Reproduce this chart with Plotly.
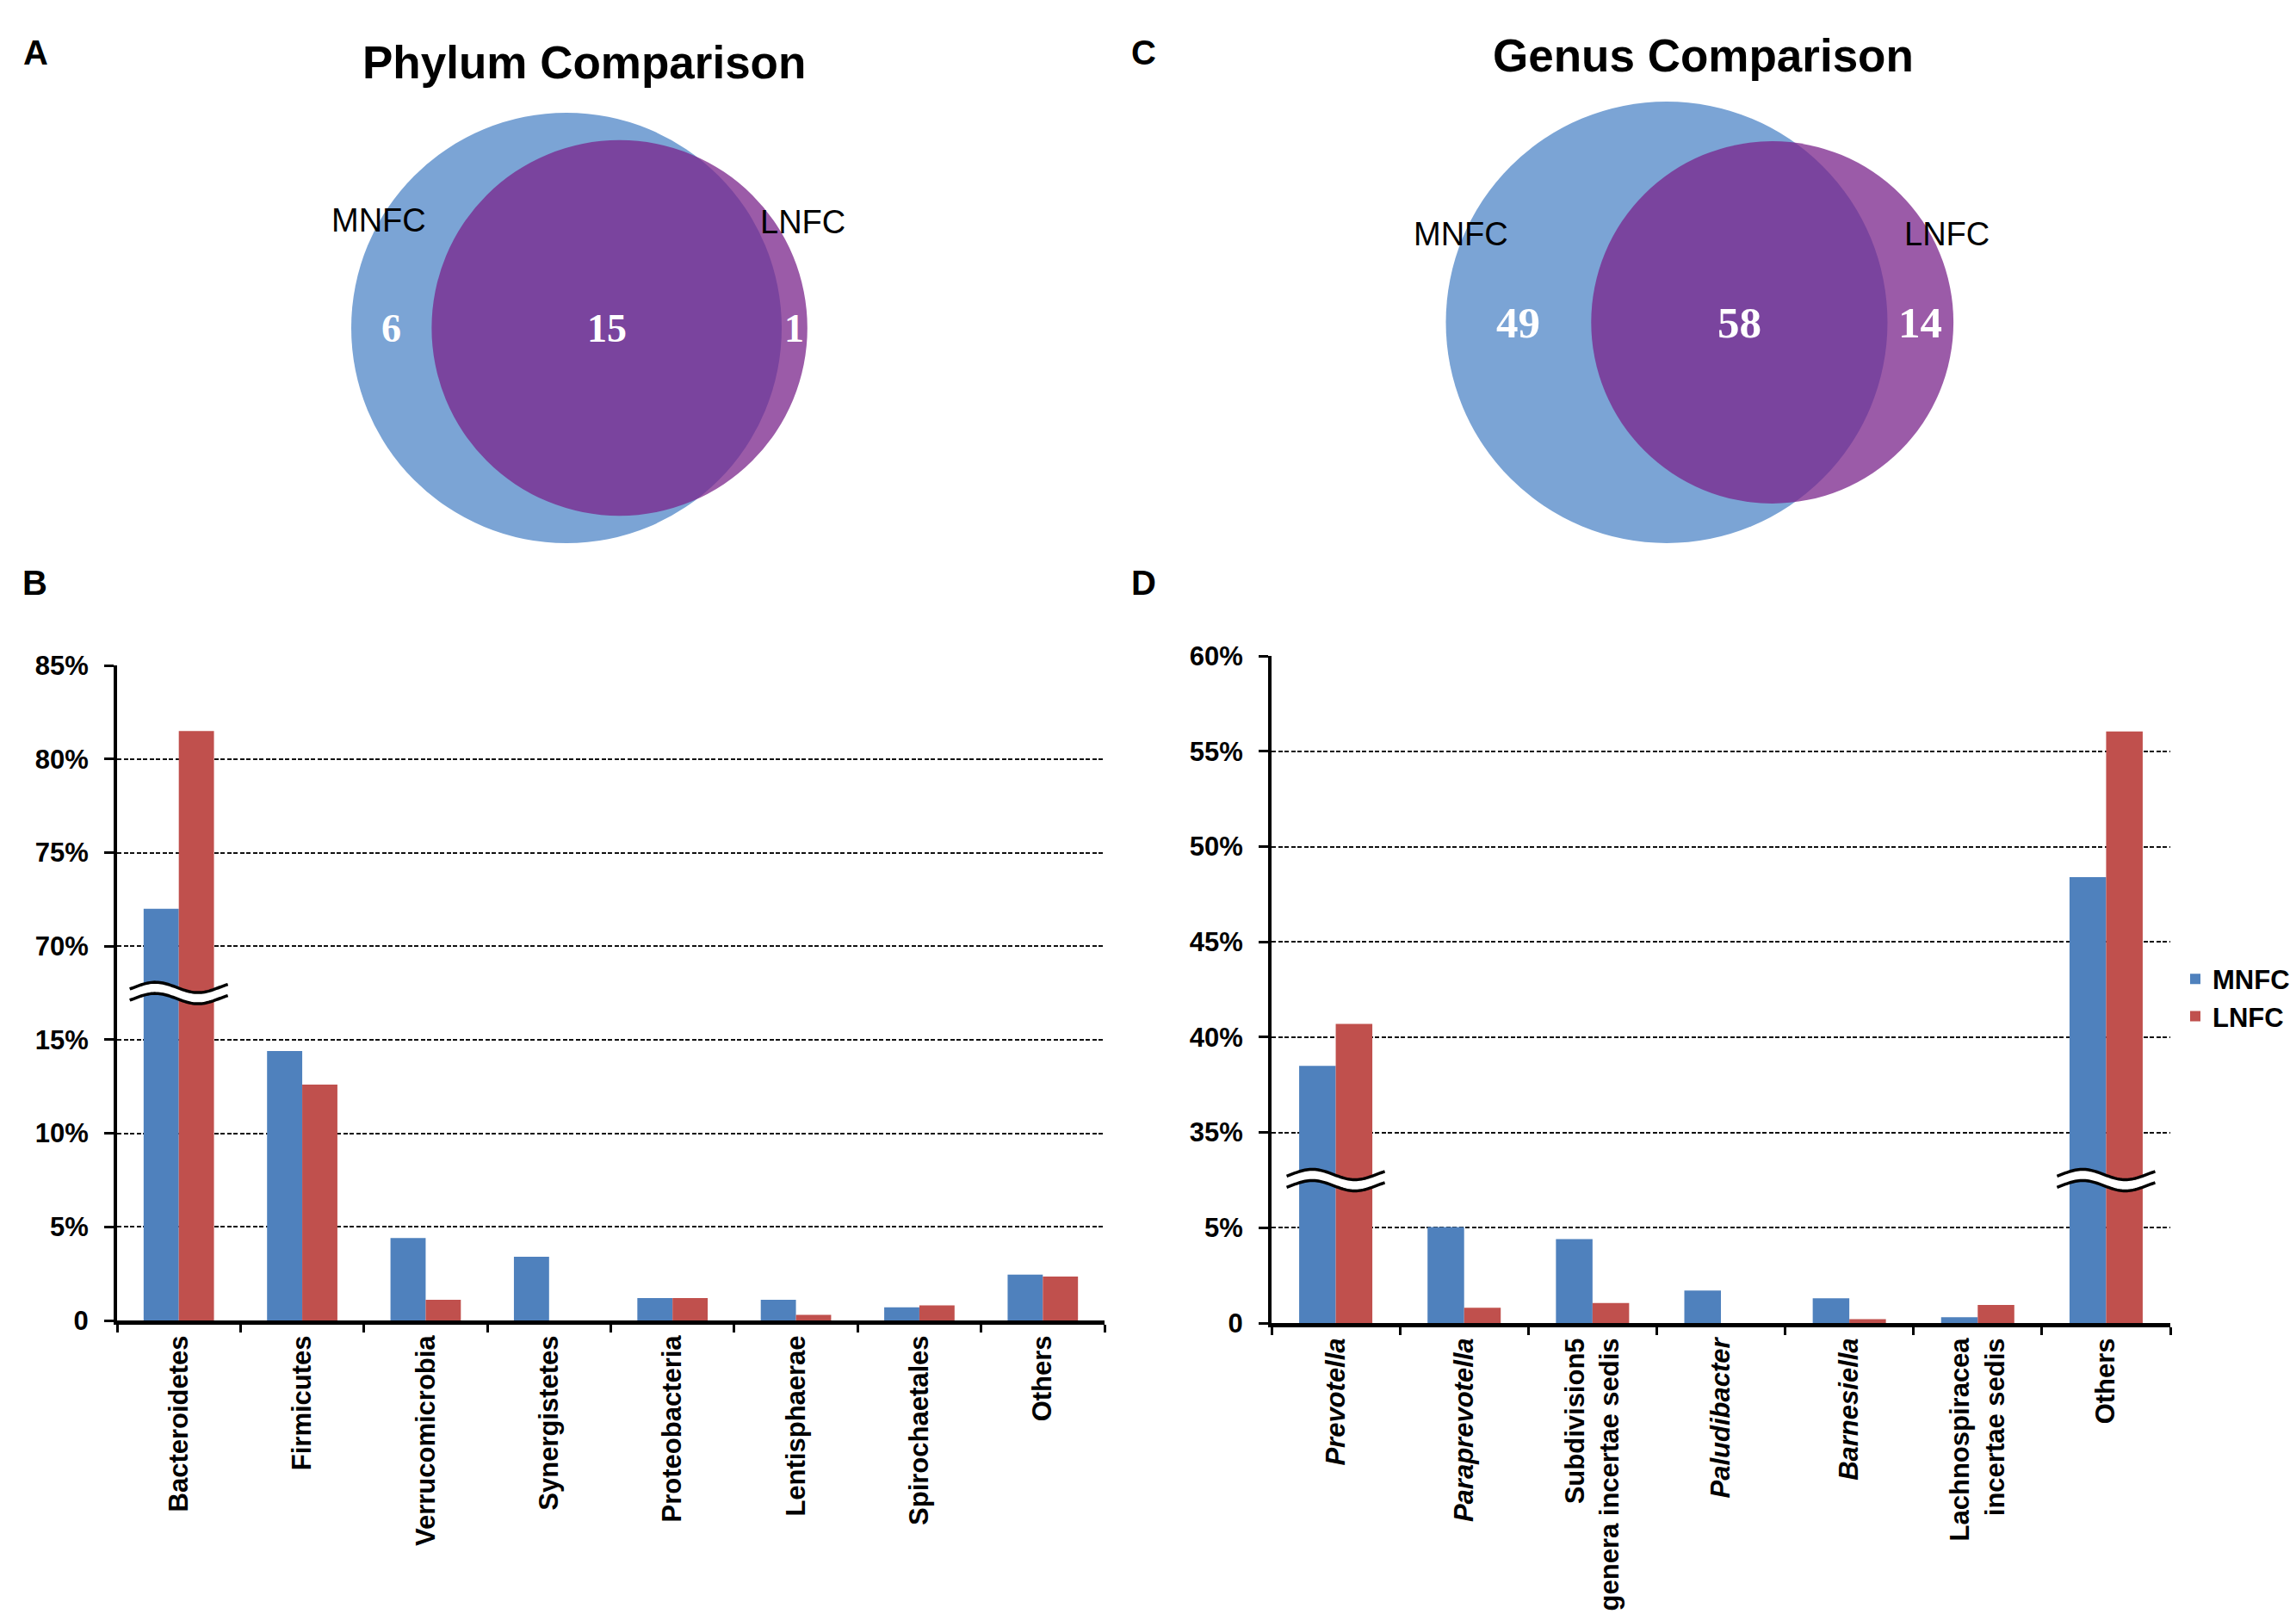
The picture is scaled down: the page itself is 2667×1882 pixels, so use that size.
import numpy as np
import plotly.graph_objects as go

W, H = 2667, 1882

# Venn counts: only MNFC, shared, only LNFC
phylum_venn = [6, 15, 1]
genus_venn = [49, 58, 14]

# Panel B - phylum level relative abundance (%)
phylum_names = ['Bacteroidetes', 'Firmicutes', 'Verrucomicrobia', 'Synergistetes',
                'Proteobacteria', 'Lentisphaerae', 'Spirochaetales', 'Others']
phylum_mnfc = [72.0, 14.4, 4.4, 3.4, 1.2, 1.1, 0.7, 2.45]
phylum_lnfc = [81.5, 12.6, 1.1, 0.0, 1.2, 0.3, 0.8, 2.35]
phylum_ticks = [0, 5, 10, 15, 70, 75, 80, 85]

# Panel D - genus level relative abundance (%)
genus_names = ['Prevotella', 'Paraprevotella', 'Subdivision5 genera incertae sedis',
               'Paludibacter', 'Barnesiella', 'Lachnospiracea incertae sedis', 'Others']
genus_labels = ['<i>Prevotella</i>', '<i>Paraprevotella</i>', 'Subdivision5<br>genera incertae sedis',
                '<i>Paludibacter</i>', '<i>Barnesiella</i>', 'Lachnospiracea<br>incertae sedis', 'Others']
genus_mnfc = [38.5, 5.2, 4.4, 1.7, 1.3, 0.3, 48.4]
genus_lnfc = [40.7, 0.8, 1.05, 0.0, 0.2, 0.95, 56.05]
genus_ticks = [0, 5, 35, 40, 45, 50, 55, 60]

BLUE = '#4F81BD'
RED = '#C0504D'
SANS = 'Liberation Sans, Arial, sans-serif'
SERIF = 'Liberation Serif, Times New Roman, serif'


def px(x):
    return x / W


def py(y):
    return 1 - y / H


def broken(values, ticks):
    # broken axis: every tick gets the same spacing
    return np.interp(values, ticks, np.arange(len(ticks)))


def lens_area(r1, r2, d):
    if d >= r1 + r2:
        return 0.0
    if d <= abs(r1 - r2):
        return np.pi * min(r1, r2) ** 2
    a1 = r1 ** 2 * np.arccos((d * d + r1 * r1 - r2 * r2) / (2 * d * r1))
    a2 = r2 ** 2 * np.arccos((d * d + r2 * r2 - r1 * r1) / (2 * d * r2))
    a3 = 0.5 * np.sqrt((-d + r1 + r2) * (d + r1 - r2) * (d - r1 + r2) * (d + r1 + r2))
    return a1 + a2 - a3


def venn_geometry(counts, r_big):
    # area proportional circles, distance solved so the lens matches the shared count
    only_m, shared, only_l = counts
    r_m = r_big
    r_l = r_big * np.sqrt((shared + only_l) / (only_m + shared))
    target = shared / (only_m + shared) * np.pi * r_m ** 2
    lo, hi = abs(r_m - r_l), r_m + r_l
    for _ in range(80):
        mid = (lo + hi) / 2
        if lens_area(r_m, r_l, mid) > target:
            lo = mid
        else:
            hi = mid
    return r_m, r_l, (lo + hi) / 2


fig = go.Figure()
shapes = []
annotations = []


def add_venn(ax, counts, cx, cy, r_big, title, title_xy, lab_m, lab_l, num_size):
    xr, yr = 'x' + ax, 'y' + ax
    r_m, r_l, d = venn_geometry(counts, r_big)
    cxl = cx + d
    shapes.append(dict(type='circle', xref=xr, yref=yr, x0=cx - r_m, x1=cx + r_m,
                       y0=cy - r_m, y1=cy + r_m, fillcolor='rgb(123,164,213)',
                       line_width=0, layer='below'))
    shapes.append(dict(type='circle', xref=xr, yref=yr, x0=cxl - r_l, x1=cxl + r_l,
                       y0=cy - r_l, y1=cy + r_l, fillcolor='rgb(121,36,139)',
                       opacity=0.75, line_width=0, layer='below'))
    # number positions: middle of each region along the centre line
    xs = [(cx - r_m + cxl - r_l) / 2, (cxl - r_l + cx + r_m) / 2, (cx + r_m + cxl + r_l) / 2]
    for x, n in zip(xs, counts):
        annotations.append(dict(xref=xr, yref=yr, x=x, y=cy, text=f'<b>{n}</b>', showarrow=False,
                                font=dict(family=SERIF, size=num_size, color='white')))
    annotations.append(dict(xref=xr, yref=yr, x=title_xy[0], y=title_xy[1], text=f'<b>{title}</b>',
                            showarrow=False, font=dict(family=SANS, size=53, color='black')))
    annotations.append(dict(xref=xr, yref=yr, x=lab_m[0], y=lab_m[1], text='MNFC', showarrow=False,
                            font=dict(family=SANS, size=38, color='black')))
    annotations.append(dict(xref=xr, yref=yr, x=lab_l[0], y=lab_l[1], text='LNFC', showarrow=False,
                            font=dict(family=SANS, size=38, color='black')))


add_venn('', phylum_venn, 658, 381, 250, 'Phylum Comparison', (678, 72), (440, 256), (932, 258), 46)
add_venn('2', genus_venn, 1936, 374.5, 256.5, 'Genus Comparison', (1978, 64), (1697, 272), (2261, 272), 51)


def wave_path(xs, ys):
    return 'M' + ' L'.join(f'{a:.4f},{b:.4f}' for a, b in zip(xs, ys))


def add_break(ax, i, yb, cat_px, unit_px):
    xr, yr = 'x' + ax, 'y' + ax
    t = np.linspace(-0.05, 1.1, 60)
    xs = i + (-57 + (t + 0.05) / 1.15 * 114) / cat_px
    wav = 6.0 / unit_px * np.sin(2 * np.pi * t)
    top = yb + 6.5 / unit_px + wav
    bot = yb - 6.5 / unit_px + wav
    band = wave_path(np.r_[xs, xs[::-1]], np.r_[top, bot[::-1]]) + ' Z'
    shapes.append(dict(type='path', xref=xr, yref=yr, path=band, fillcolor='white', line_width=0))
    for ys in (top, bot):
        shapes.append(dict(type='path', xref=xr, yref=yr, path=wave_path(xs, ys),
                           line=dict(color='black', width=3.5)))


def add_bars(ax, names, mnfc, lnfc, ticks, legend):
    for name, vals, color in (('MNFC', mnfc, BLUE), ('LNFC', lnfc, RED)):
        fig.add_trace(go.Bar(x=names, y=broken(vals, ticks), customdata=vals, name=f'<b>{name}</b>',
                             marker=dict(color=color, line_width=0), xaxis='x' + ax, yaxis='y' + ax,
                             showlegend=legend, hovertemplate='%{x}: %{customdata}%<extra></extra>'))
    # break marks on the bars that reach above the gap in the axis
    gap = int(np.argmax(np.diff(ticks))) + 1
    return [(i, gap - 0.5) for i, (a, b) in enumerate(zip(mnfc, lnfc)) if max(a, b) >= ticks[gap]]


def bar_axes(names, labels, ticks, xdom, ydom):
    xa = dict(domain=xdom, type='category', categoryorder='array', categoryarray=names,
              tickmode='array', tickvals=names, ticktext=[f'<b>{s}</b>' for s in labels],
              tickangle=-90, tickson='boundaries', ticks='outside', ticklen=9, tickwidth=3,
              tickcolor='black', showline=True, linewidth=5, linecolor='black', showgrid=False,
              tickfont=dict(family=SANS, size=31, color='black'), range=[-0.5, len(names) - 0.5],
              fixedrange=True)
    ya = dict(domain=ydom, range=[0, len(ticks) - 1 + 0.002], tickmode='array',
              tickvals=list(range(len(ticks))),
              ticktext=['<b>0</b>' if t == 0 else f'<b>{t}%</b>' for t in ticks],
              ticks='outside', ticklen=11, tickwidth=3, tickcolor='black',
              showline=True, linewidth=4, linecolor='black', showgrid=True, gridcolor='#111',
              gridwidth=1.5, griddash='5px,2.5px', zeroline=False, ticklabelstandoff=12,
              tickfont=dict(family=SANS, size=31, color='black'), fixedrange=True)
    return xa, ya


for i, yb in add_bars('3', phylum_names, phylum_mnfc, phylum_lnfc, phylum_ticks, False):
    add_break('3', i, yb, (1283 - 136) / len(phylum_names), (1534 - 773) / (len(phylum_ticks) - 1))
for i, yb in add_bars('4', genus_names, genus_mnfc, genus_lnfc, genus_ticks, True):
    add_break('4', i, yb, (2521 - 1477) / len(genus_names), (1537 - 762) / (len(genus_ticks) - 1))

xa3, ya3 = bar_axes(phylum_names, phylum_names, phylum_ticks, [px(136), px(1283)], [py(1534), py(773)])
xa4, ya4 = bar_axes(genus_names, genus_labels, genus_ticks, [px(1477), px(2521)], [py(1537), py(762)])
xa3['anchor'], ya3['anchor'] = 'y3', 'x3'
xa4['anchor'], ya4['anchor'] = 'y4', 'x4'

venn_axis = dict(visible=False, fixedrange=True)

for letter, x, y in (('A', 25, 37), ('C', 1328, 37), ('B', 24, 677), ('D', 1328, 677)):
    annotations.append(dict(xref='paper', yref='paper', x=px(x), y=py(y), text=f'<b>{letter}</b>',
                            showarrow=False, font=dict(family=SANS, size=40, color='black')))

fig.update_layout(
    width=W, height=H, autosize=False,
    margin=dict(l=0, r=0, t=0, b=0, autoexpand=False),
    paper_bgcolor='white', plot_bgcolor='white',
    font=dict(family=SANS, color='black'),
    barmode='group', bargap=0.43, bargroupgap=0,
    xaxis=dict(domain=[0, 0.5], range=[0, W / 2], anchor='y', **venn_axis),
    yaxis=dict(domain=[py(700), 1], range=[700, 0], anchor='x', **venn_axis),
    xaxis2=dict(domain=[0.5, 1], range=[W / 2, W], anchor='y2', **venn_axis),
    yaxis2=dict(domain=[py(700), 1], range=[700, 0], anchor='x2', **venn_axis),
    xaxis3=xa3, yaxis3=ya3, xaxis4=xa4, yaxis4=ya4,
    legend=dict(x=px(2530), y=py(1159), xanchor='left', yanchor='middle',
                font=dict(family=SANS, size=31, color='black'), bgcolor='rgba(0,0,0,0)',
                tracegroupgap=0, itemwidth=30),
    shapes=shapes, annotations=annotations,
)

# the page body has a default 8px margin, drop it so the figure fills the window
fig.write_html('out.html', config={'displayModeBar': False},
               post_script="document.body.style.margin='0px';")
